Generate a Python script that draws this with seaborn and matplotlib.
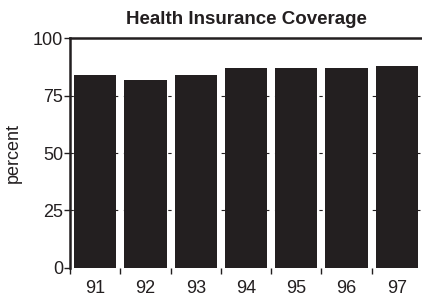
import numpy as np
import pandas as pd
import seaborn as sns
import matplotlib.pyplot as plt

# dados
years = ['91', '92', '93', '94', '95', '96', '97']
coverage = [84, 82, 84, 87, 87, 87, 88]

df = pd.DataFrame({'year': years, 'percent': coverage})

sns.set_style("white")
plt.rcParams['font.family'] = ['Liberation Sans', 'DejaVu Sans']

fig = plt.figure(figsize=(4.22, 2.98), dpi=100)
ax = fig.add_axes([0.166, 0.101, 0.834, 0.771])

sns.barplot(data=df, x='year', y='percent', color='#231f20', saturation=1,
            width=0.84, linewidth=0, ax=ax, zorder=2)

# grade tracejada
for v in [25, 50, 75]:
    ax.axhline(v, color='#231f20', lw=0.8, ls=(0, (3, 5)), zorder=1)

ax.set_ylim(0, 100)
ax.set_xlim(-0.5, 6.5)
ax.set_yticks([0, 25, 50, 75, 100])

n = len(years)
ax.set_xticks(np.arange(n) - 0.5)
ax.set_xticklabels([])
ax.set_xticks(np.arange(n), minor=True)
ax.set_xticklabels(years, minor=True)
ax.tick_params(axis='x', which='major', direction='out', length=4, width=1, color='#231f20', bottom=True)
ax.tick_params(axis='x', which='minor', length=0, pad=9, labelsize=13, labelcolor='#231f20')
ax.tick_params(axis='y', direction='out', length=4, width=1, color='#231f20', left=True,
               labelsize=13, pad=1, labelcolor='#231f20')

ax.set_xlabel('')
ax.set_ylabel('percent', fontsize=13, labelpad=8, color='#231f20')
ax.set_title('Health Insurance Coverage', fontsize=13.5, fontweight='bold', pad=10, color='#231f20')

for s in ['left', 'top']:
    ax.spines[s].set_visible(True)
    ax.spines[s].set_linewidth(1.8)
    ax.spines[s].set_color('#231f20')
ax.spines['right'].set_visible(False)
ax.spines['bottom'].set_visible(False)

fig.savefig('out.png', dpi=100)
